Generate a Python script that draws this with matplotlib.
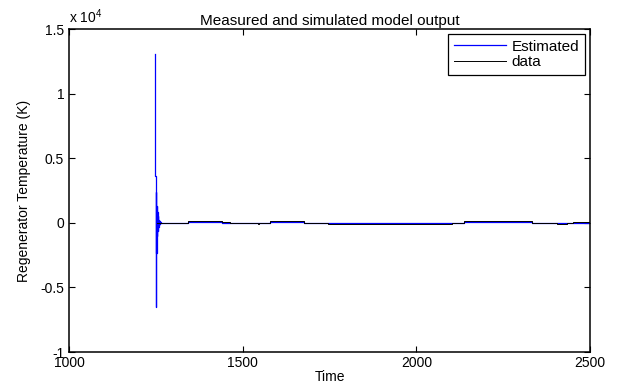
import matplotlib
matplotlib.use("Agg")
import matplotlib.pyplot as plt
from matplotlib.ticker import FuncFormatter

plt.rcParams["font.family"] = ["Liberation Sans", "DejaVu Sans"]
plt.rcParams["mathtext.fontset"] = "custom"
plt.rcParams["mathtext.rm"] = "Liberation Sans"

# measured regenerator temperature (step changes around the operating point)
data_t = [1253, 1343, 1440, 1464, 1544, 1548, 1579, 1677, 1746, 2103,
          2137, 2333, 2405, 2434, 2451, 2500]
data_v = [0, 110, 40, 0, -70, 0, 110, 0, -90, 0,
          110, 0, -120, 0, 90, 90]

# simulated model output: start-up transient, then tracking
est_t = [1247, 1248, 1249, 1250, 1251, 1252, 1253, 1254, 1255, 1256,
         1257, 1258, 1259, 1260, 1261, 1262, 1264,
         1343, 1440, 1464, 1579, 1677, 1746, 2103, 2137, 2333, 2405,
         2434, 2451, 2500]
est_v = [13100, 3600, -6480, 2400, -2300, 1300, -1000, 800, -600, 500,
         -350, 250, -200, 150, -100, 60, 0,
         30, 10, 0, 30, 0, -30, 0, 30, 0, -40,
         0, 20, 20]

fig = plt.figure(figsize=(6.18, 3.87), dpi=100)
ax = fig.add_axes([0.1117, 0.0904, 0.843, 0.8346])

ax.step(est_t, est_v, where="post", color="#0000ff", lw=0.9, label="Estimated")
ax.step(data_t, data_v, where="post", color="black", lw=0.7, label="data")

ax.set_xlim(1000, 2500)
ax.set_ylim(-1e4, 1.5e4)
ax.set_xticks([1000, 1500, 2000, 2500])
ax.set_yticks([-1e4, -0.5e4, 0, 0.5e4, 1e4, 1.5e4])
ax.yaxis.set_major_formatter(FuncFormatter(lambda v, p: f"{v / 1e4:g}"))

ax.tick_params(direction="in", length=4, width=0.8, labelsize=10,
               top=True, right=True, colors="black")
ax.tick_params(axis="x", pad=3)
for sp in ax.spines.values():
    sp.set_linewidth(1.1)

ax.text(0.0, 1.01, r"x 10$^{4}$", transform=ax.transAxes,
        fontsize=10, ha="left", va="bottom")
ax.set_title("Measured and simulated model output", fontsize=11, pad=3)
ax.set_xlabel("Time", fontsize=10, labelpad=0)
ax.set_ylabel("Regenerator Temperature (K)", fontsize=10, labelpad=7)

leg = ax.legend(loc="upper right", fontsize=11, fancybox=False, framealpha=1,
                edgecolor="black", borderaxespad=0.35, handlelength=3.4,
                borderpad=0.35, labelspacing=0.1, handletextpad=0.4)
leg.get_frame().set_linewidth(0.9)

fig.savefig("out.png", dpi=100)
